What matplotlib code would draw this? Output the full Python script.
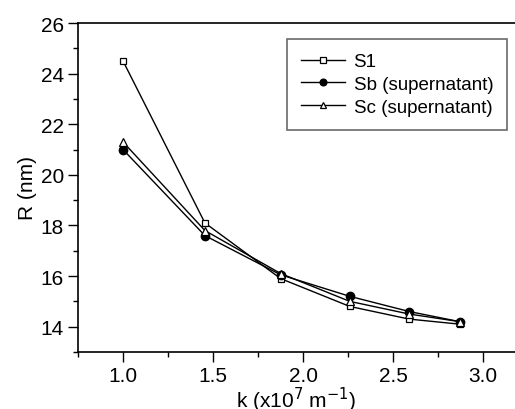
import matplotlib
matplotlib.use("Agg")
import matplotlib.pyplot as plt
from matplotlib.ticker import MultipleLocator

plt.rcParams['font.family'] = ['Liberation Sans', 'DejaVu Sans']

k = [1.0, 1.455, 1.876, 2.26, 2.59, 2.87]
s1 = [24.5, 18.1, 15.9, 14.8, 14.3, 14.1]
sb = [21.0, 17.6, 16.05, 15.2, 14.6, 14.2]
sc = [21.3, 17.8, 16.1, 15.0, 14.5, 14.2]
labels = ['S1', 'Sb (supernatant)', 'Sc (supernatant)']

fig = plt.figure(figsize=(5.15, 4.1), dpi=100)
ax = fig.add_axes([78 / 515, (410 - 353) / 410, 437 / 515, (353 - 24) / 410])

ax.plot(k, s1, 'k-', marker='s', mfc='white', mec='k', ms=5, lw=1, mew=0.9, label=labels[0])
ax.plot(k, sb, 'k-', marker='o', mfc='black', mec='k', ms=6, lw=1, label=labels[1])
ax.plot(k, sc, 'k-', marker='^', mfc='white', mec='k', ms=6, lw=1, mew=0.9, label=labels[2])

ax.set_xlim(0.75, 0.75 + 437 / 180)
ax.set_ylim(13, 26)
ax.xaxis.set_major_locator(MultipleLocator(0.5))
ax.xaxis.set_minor_locator(MultipleLocator(0.25))
ax.yaxis.set_major_locator(MultipleLocator(2))
ax.yaxis.set_minor_locator(MultipleLocator(1))
ax.set_xticks([1.0, 1.5, 2.0, 2.5, 3.0])
ax.set_xticklabels(['1.0', '1.5', '2.0', '2.5', '3.0'])
ax.tick_params(which='major', direction='out', length=7, width=1, labelsize=15, pad=3)
ax.tick_params(which='minor', direction='out', length=3.5, width=1)
ax.spines['right'].set_visible(False)
for s in ['left', 'bottom', 'top']:
    ax.spines[s].set_linewidth(1.2)

ax.set_ylabel('R (nm)', fontsize=15, labelpad=3)
ax.set_xlabel('k (x10$^7$ m$^{-1}$)', fontsize=15, labelpad=0)

leg = ax.legend(loc='upper left', bbox_to_anchor=((287 - 78) / 437, 1 - (40 - 24) / 329),
                fontsize=13.5, frameon=True, fancybox=False, edgecolor='#444444',
                handlelength=2.35, handletextpad=0.45, borderpad=0.75, labelspacing=0.3,
                borderaxespad=0, markerscale=0.8)
leg.get_frame().set_linewidth(1.2)

fig.savefig('out.png', dpi=100)
